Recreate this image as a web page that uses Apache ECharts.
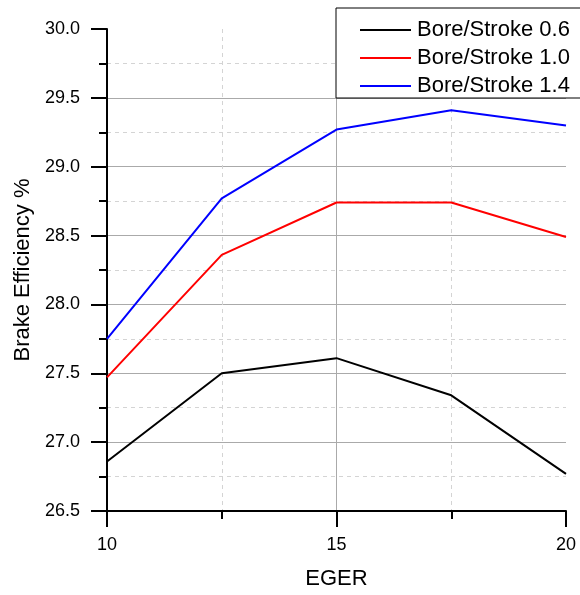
<!DOCTYPE html>
<html>
<head>
<meta charset="utf-8">
<script src="https://cdn.jsdelivr.net/npm/echarts@6/dist/echarts.min.js"></script>
<style>
  html, body { margin: 0; padding: 0; background: #fff; }
  #chart { width: 580px; height: 595px; }
</style>
</head>
<body>
<div id="chart"></div>
<script>
// EGER values on the x axis
const eger = [10, 12.5, 15, 17.5, 20];
// brake efficiency (%) for each bore/stroke ratio
const bs06 = [26.86, 27.50, 27.61, 27.34, 26.77];
const bs10 = [27.47, 28.36, 28.74, 28.74, 28.49];
const bs14 = [27.75, 28.77, 29.27, 29.41, 29.30];
const seriesNames = ['Bore/Stroke 0.6', 'Bore/Stroke 1.0', 'Bore/Stroke 1.4'];
const seriesColors = ['#000000', '#ff0000', '#0000ff'];

const font = 'Arial, "Liberation Sans", sans-serif';
const chart = echarts.init(document.getElementById('chart'));

function makeLine(name, vals, color) {
  return {
    name: name,
    type: 'line',
    data: eger.map((x, i) => [x, vals[i]]),
    symbol: 'none',
    lineStyle: { color: color, width: 2 },
    itemStyle: { color: color },
    animation: false
  };
}

const option = {
  animation: false,
  grid: { left: 107, top: 29, right: 14, bottom: 84 },
  legend: {
    orient: 'vertical',
    left: 336,
    top: 8,
    padding: [11, 30, 1, 24],
    itemGap: 6,
    itemWidth: 51,
    itemHeight: 2,
    icon: 'rect',
    borderColor: '#000',
    borderWidth: 1,
    backgroundColor: '#fff',
    textStyle: { fontSize: 22, fontFamily: font, color: '#000', padding: [0, 0, 0, 1] },
    data: seriesNames
  },
  xAxis: {
    type: 'value',
    min: 10,
    max: 20,
    interval: 5,
    name: 'EGER',
    nameLocation: 'middle',
    nameGap: 57,
    nameTextStyle: { fontSize: 22, fontFamily: font, color: '#000' },
    axisLine: { lineStyle: { color: '#000', width: 2 } },
    axisTick: { inside: false, length: 16, lineStyle: { width: 2, color: '#000' } },
    minorTick: { show: true, splitNumber: 2, length: 8, lineStyle: { width: 2, color: '#000' } },
    axisLabel: { fontSize: 18, fontFamily: font, color: '#000', margin: 25 },
    splitLine: { show: true, showMinLine: false, showMaxLine: false, lineStyle: { color: '#aaa', width: 1 } },
    minorSplitLine: { show: true, lineStyle: { color: '#d4d4d4', width: 1, type: [4, 4] } }
  },
  yAxis: {
    type: 'value',
    min: 26.5,
    max: 30,
    interval: 0.5,
    name: 'Brake Efficiency %',
    nameLocation: 'middle',
    nameGap: 70,
    nameTextStyle: { fontSize: 22, fontFamily: font, color: '#000' },
    axisLine: { show: true, lineStyle: { color: '#000', width: 2 } },
    axisTick: { show: true, inside: false, length: 16, lineStyle: { width: 2, color: '#000' } },
    minorTick: { show: true, splitNumber: 2, length: 8, lineStyle: { width: 2, color: '#000' } },
    axisLabel: {
      fontSize: 18, fontFamily: font, color: '#000', margin: 27,
      formatter: v => v.toFixed(1)
    },
    splitLine: { show: true, showMinLine: false, showMaxLine: false, lineStyle: { color: '#aaa', width: 1 } },
    minorSplitLine: { show: true, lineStyle: { color: '#d4d4d4', width: 1, type: [4, 4] } }
  },
  series: [
    makeLine(seriesNames[0], bs06, seriesColors[0]),
    makeLine(seriesNames[1], bs10, seriesColors[1]),
    makeLine(seriesNames[2], bs14, seriesColors[2])
  ]
};
chart.setOption(option);
</script>
</body>
</html>
